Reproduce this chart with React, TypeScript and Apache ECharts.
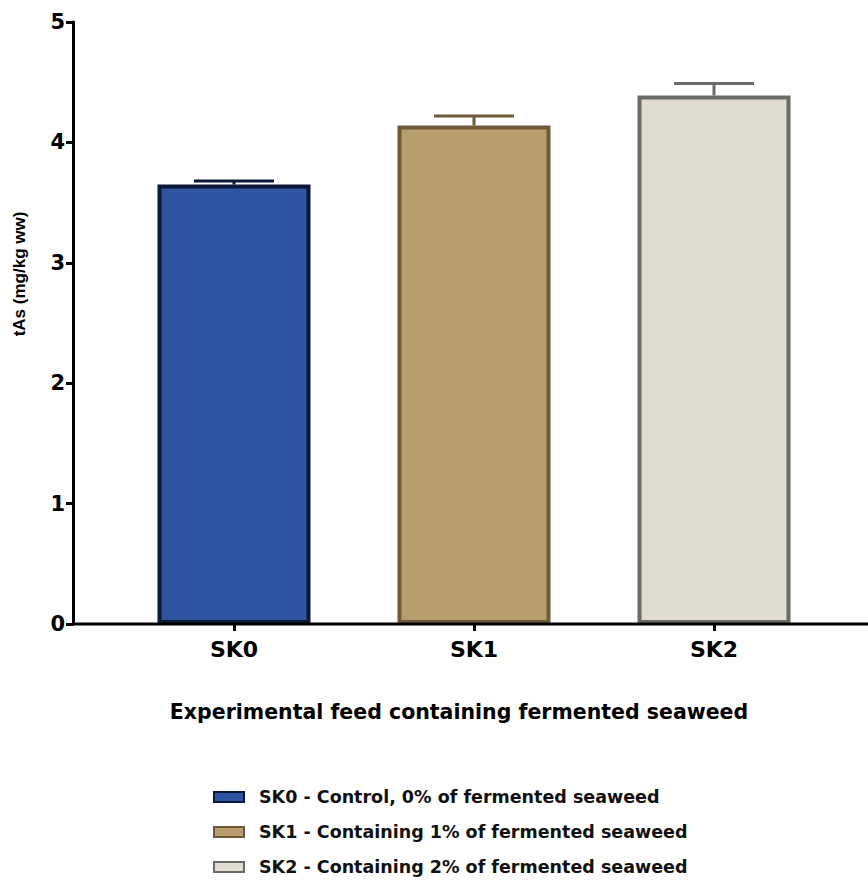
import React, { useEffect, useRef } from "react";
import * as echarts from "echarts";

const categories = ["SK0", "SK1", "SK2"];
const seriesNames = [
  "SK0 - Control, 0% of fermented seaweed",
  "SK1 - Containing 1% of fermented seaweed",
  "SK2 - Containing 2% of fermented seaweed",
];
const means = [3.65, 4.14, 4.39];
const errorTops = [3.68, 4.22, 4.49];
const yTicks = [0, 1, 2, 3, 4, 5];

const fills = ["#2E55A1", "#B89D6E", "#E0DCD2"];
const borders = ["#0B1838", "#6F5A38", "#6A6A67"];

const FONT = "'DejaVu Sans', Arial, sans-serif";
const FONT_Y = "'Liberation Sans', Arial, sans-serif";

export default function App() {
  const ref = useRef<HTMLDivElement>(null);
  useEffect(() => {
    if (!ref.current) return;
    const chart = echarts.init(ref.current, undefined, { renderer: "svg" });
    const barSeries = seriesNames.map((name, i) => ({
      name,
      type: "bar",
      data: categories.map((_, j) => (j === i ? means[i] : "-")),
      barWidth: 153,
      barGap: "-100%",
      itemStyle: { color: fills[i], borderColor: borders[i], borderWidth: 4 },
      z: 2,
    }));
    const errData = categories.map((_, i) => [i, means[i], errorTops[i]]);
    chart.setOption({
      animation: false,
      grid: { left: 114, right: 34, top: 22, bottom: 265 },
      legend: {
        orient: "vertical",
        left: 208,
        top: 781,
        itemWidth: 30,
        itemHeight: 10,
        itemGap: 13,
        icon: "rect",
        textStyle: {
          fontFamily: FONT,
          fontWeight: "bold",
          fontSize: 17.5,
          color: "#111",
          lineHeight: 22,
          padding: [0, 0, 0, 10],
        },
        data: seriesNames,
      },
      xAxis: {
        type: "category",
        data: categories,
        axisLine: { show: false },
        axisTick: { show: true, alignWithLabel: true, length: 7, lineStyle: { color: "#000", width: 3 } },
        axisLabel: { fontFamily: FONT, fontWeight: "bold", fontSize: 22, color: "#000", margin: 14 },
      },
      yAxis: {
        type: "value",
        min: 0,
        max: 5,
        interval: 1,
        offset: 41,
        splitLine: { show: false },
        axisLine: { show: true, lineStyle: { color: "#000", width: 3 } },
        axisTick: { show: true, length: 7, lineStyle: { color: "#000", width: 3 } },
        axisLabel: {
          fontFamily: FONT,
          fontWeight: "bold",
          fontSize: 21,
          color: "#000",
          margin: 8,
          formatter: (v: number) => (yTicks.includes(v) ? String(v) : ""),
        },
      },
      series: [
        ...barSeries,
        {
          type: "custom",
          name: "error",
          z: 5,
          data: errData,
          renderItem: (params: any, api: any) => {
            const idx = api.value(0);
            const base = api.coord([idx, api.value(1)]);
            const top = api.coord([idx, api.value(2)]);
            const color = borders[params.dataIndex];
            const half = 40;
            return {
              type: "group",
              children: [
                {
                  type: "line",
                  shape: { x1: base[0], y1: base[1], x2: top[0], y2: top[1] },
                  style: { stroke: color, lineWidth: 3 },
                },
                {
                  type: "line",
                  shape: { x1: top[0] - half, y1: top[1], x2: top[0] + half, y2: top[1] },
                  style: { stroke: color, lineWidth: 3 },
                },
              ],
            };
          },
        },
      ],
      graphic: [
        {
          type: "line",
          shape: { x1: 72, y1: 624, x2: 868, y2: 624 },
          style: { stroke: "#000", lineWidth: 3 },
          z: 10,
        },
        {
          type: "text",
          x: 19,
          y: 274,
          rotation: Math.PI / 2,
          style: {
            text: "tAs (mg/kg ww)",
            fontFamily: FONT_Y,
            fontWeight: "bold",
            fontSize: 17,
            fill: "#000",
            align: "center",
            verticalAlign: "middle",
          },
        },
        {
          type: "text",
          x: 459,
          y: 712,
          style: {
            text: "Experimental feed containing fermented seaweed",
            fontFamily: FONT,
            fontWeight: "bold",
            fontSize: 20.5,
            fill: "#000",
            align: "center",
            verticalAlign: "middle",
          },
        },
      ],
    });
    return () => chart.dispose();
  }, []);
  return <div ref={ref} style={{ width: 868, height: 889, position: "absolute", left: 0, top: 0 }} />;
}
